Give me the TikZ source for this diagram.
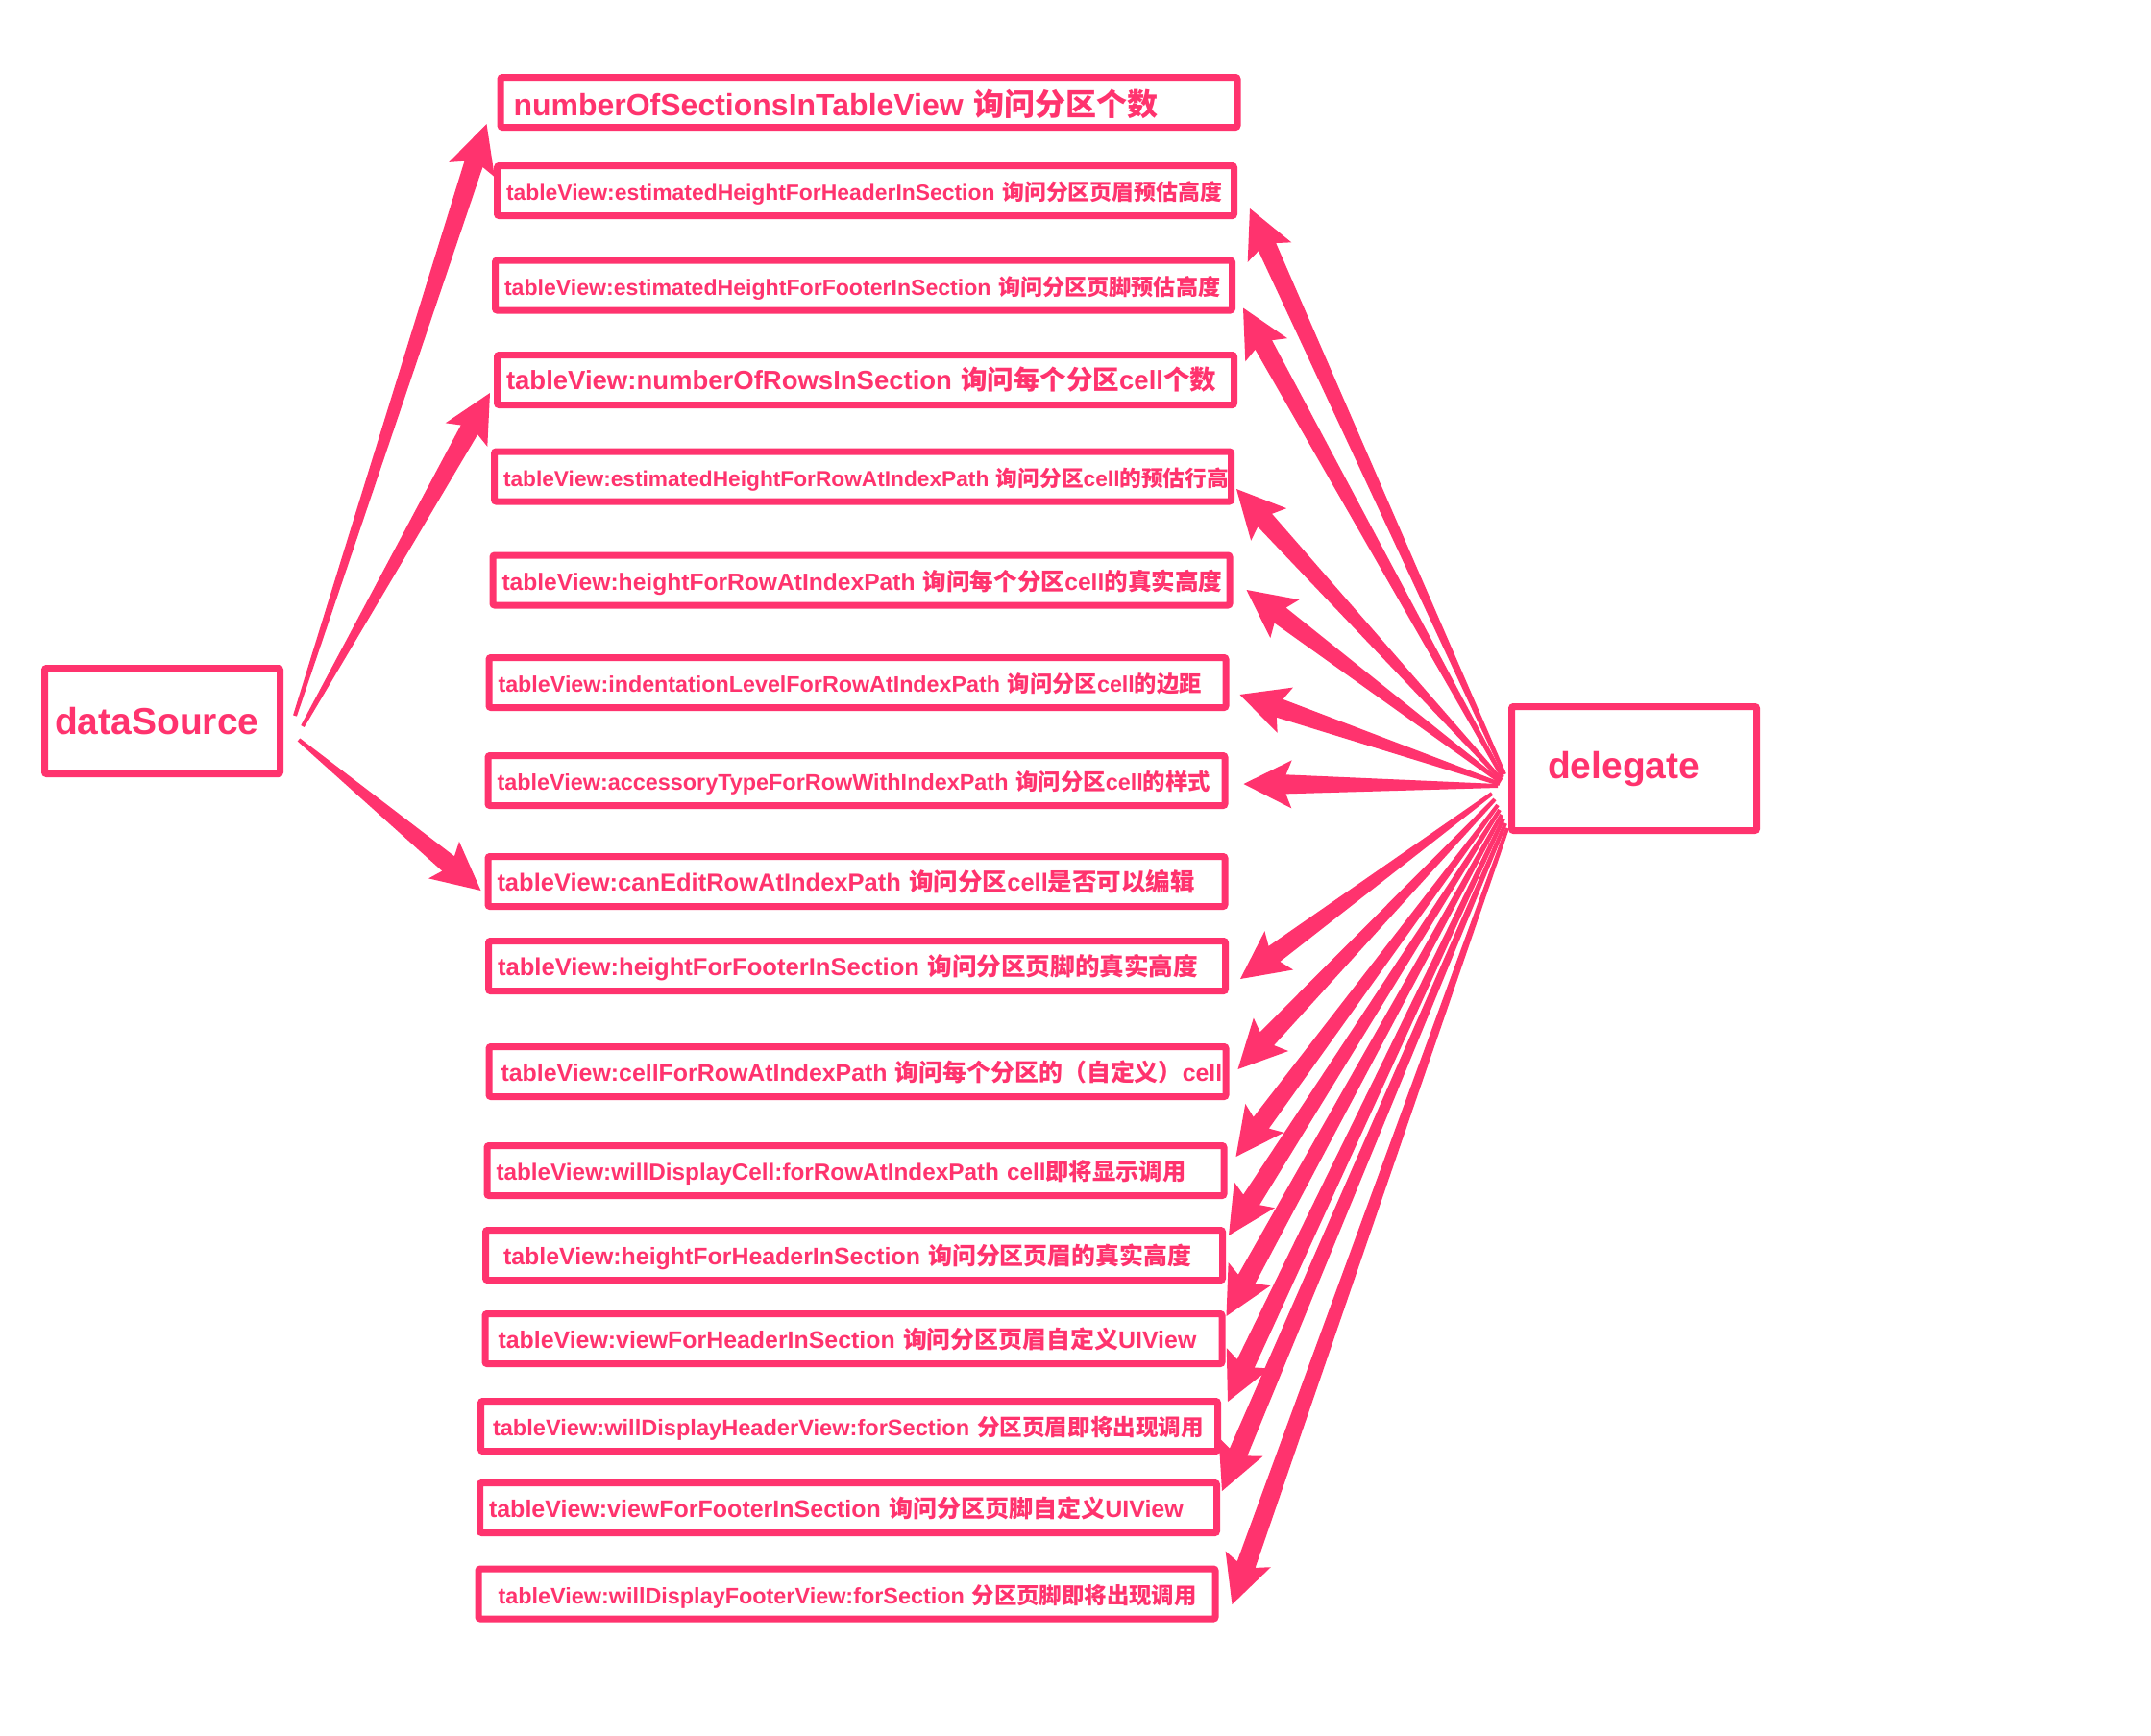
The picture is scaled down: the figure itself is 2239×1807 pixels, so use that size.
\documentclass[tikz,border=0pt]{standalone}
\usepackage{fontspec}
\setmainfont{Liberation Sans}
\newfontfamily\cjk{Noto Sans CJK SC}
\usetikzlibrary{calc}
\definecolor{rose}{RGB}{255,51,110}
\newcommand{\zh}[1]{{\cjk #1}}
% tapered arrow from #1 to #2
\newcommand{\taper}[2]{%
  \coordinate (ta) at (#1);
  \coordinate (tb) at (#2);
  \fill[rose] ($(ta)!2pt!90:(tb)$)
    -- ($(tb)!44pt!(ta)!10pt!-90:(ta)$)
    -- ($(tb)!50pt!(ta)!25pt!-90:(ta)$)
    -- (tb)
    -- ($(tb)!50pt!(ta)!25pt!90:(ta)$)
    -- ($(tb)!44pt!(ta)!10pt!90:(ta)$)
    -- ($(ta)!2pt!-90:(tb)$) -- cycle;}
\hyphenpenalty=10000
\hbadness=10000
\hfuzz=100pt
\tikzset{
  item/.style={draw=rose, line width=7pt, rounded corners=2pt, text=rose,
    inner xsep=9.5pt, inner ysep=0pt, text width=748pt, minimum height=52pt,
    text height=25pt, text depth=5pt,
    align=left, font=\bfseries\fontsize{#1pt}{#1pt}\selectfont},
  big/.style={text height=34pt, text depth=6.5pt},
  indent/.style={execute at begin node={\hspace*{#1pt}}},
  hub/.style={draw=rose, line width=7pt, rounded corners=2pt, text=rose,
    inner ysep=0pt, align=left, font=\bfseries\fontsize{39pt}{39pt}\selectfont}
}
\begin{document}
\begin{tikzpicture}[x=1pt,y=-1pt]
  \fill[white] (0,0) rectangle (2239,1807);
  \useasboundingbox (0,0) rectangle (2239,1807);

  \node[hub, inner xsep=10.5pt, text width=224pt, minimum height=110pt] (ds) at (169,750.5) {dataSource};
  \node[hub, inner xsep=37.5pt, text width=180pt, minimum height=129pt] (de) at (1701,800) {delegate};

  \node[item=32, big, indent=4] (m1) at (904.5,106.5) {numberOfSectionsInTableView~\zh{询问分区个数}};
  \node[item=22.9] (m2) at (901,198.5) {tableView:estimatedHeightForHeaderInSection~\zh{询问分区页眉预估高度}};
  \node[item=23.1] (m3) at (899,297) {tableView:estimatedHeightForFooterInSection~\zh{询问分区页脚预估高度}};
  \node[item=27.5] (m4) at (901,395.5) {tableView:numberOfRowsInSection~\zh{询问每个分区}cell\zh{个数}};
  \node[item=22.7] (m5) at (898,496) {tableView:estimatedHeightForRowAtIndexPath~\zh{询问分区}cell\zh{的预估行高}};
  \node[item=24.6] (m6) at (896.5,604) {tableView:heightForRowAtIndexPath~\zh{询问每个分区}cell\zh{的真实高度}};
  \node[item=23.3] (m7) at (892.5,710.5) {tableView:indentationLevelForRowAtIndexPath~\zh{询问分区}cell\zh{的边距}};
  \node[item=23.4] (m8) at (891.5,812.5) {tableView:accessoryTypeForRowWithIndexPath~\zh{询问分区}cell\zh{的样式}};
  \node[item=25.5] (m9) at (891.5,917.5) {tableView:canEditRowAtIndexPath~\zh{询问分区}cell\zh{是否可以编辑}};
  \node[item=25.6] (m10) at (892,1005.5) {tableView:heightForFooterInSection~\zh{询问分区页脚的真实高度}};
  \node[item=24.9, indent=3] (m11) at (892.5,1115.5) {tableView:cellForRowAtIndexPath~\zh{询问每个分区的（自定义）}cell};
  \node[item=24.3] (m12) at (890.5,1218.5) {tableView:willDisplayCell:forRowAtIndexPath~cell\zh{即将显示调用}};
  \node[item=24.9, indent=9] (m13) at (889,1306.5) {tableView:heightForHeaderInSection~\zh{询问分区页眉的真实高度}};
  \node[item=24.9, indent=4] (m14) at (888.5,1393.5) {tableView:viewForHeaderInSection~\zh{询问分区页眉自定义}UIView};
  \node[item=23.6, indent=3] (m15) at (884,1484.5) {tableView:willDisplayHeaderView:forSection~\zh{分区页眉即将出现调用}};
  \node[item=25] (m16) at (883,1569.5) {tableView:viewForFooterInSection~\zh{询问分区页脚自定义}UIView};
  \node[item=23.4, indent=11] (m17) at (881.5,1659) {tableView:willDisplayFooterView:forSection~\zh{分区页脚即将出现调用}};

  % dataSource
  \taper{$(ds.east)+(12,-5.5)$}{$(m1.south west)+(-11,-7)$}
  \taper{$(ds.east)+(20,5.5)$}{$(m4.west)+(-4,13.5)$}
  \taper{$(ds.east)+(16,19.5)$}{$(m9.west)+(-4,9.5)$}

  % delegate
  \taper{$(de.west)+(-4,6)$}{$(m2.south east)+(13,-11)$}
  \taper{$(de.west)+(-6,9)$}{$(m3.south east)+(8,-6)$}
  \taper{$(de.west)+(-7,12)$}{$(m5.east)+(2,13)$}
  \taper{$(de.west)+(-8,14)$}{$(m6.east)+(14,10)$}
  \taper{$(de.west)+(-9,16)$}{$(m7.east)+(11,12.5)$}
  \taper{$(de.west)+(-11,18)$}{$(m8.east)+(16,3.5)$}
  \taper{$(de.west)+(-17,26)$}{$(m10.east)+(12,13.5)$}
  \taper{$(de.west)+(-14,32)$}{$(m11.east)+(9,-2.5)$}
  \taper{$(de.west)+(-11,38)$}{$(m12.east)+(9,-14.5)$}
  \taper{$(de.west)+(-9,43)$}{$(m13.north east)+(3,9)$}
  \taper{$(de.west)+(-7,48)$}{$(m14.north east)+(1,6)$}
  \taper{$(de.west)+(-5,52)$}{$(m15.north east)+(7,4)$}
  \taper{$(de.west)+(-3,57)$}{$(m16.north east)+(2,12)$}
  \taper{$(de.west)+(-1,62)$}{$(m17.east)+(14,11)$}
\end{tikzpicture}
\end{document}
